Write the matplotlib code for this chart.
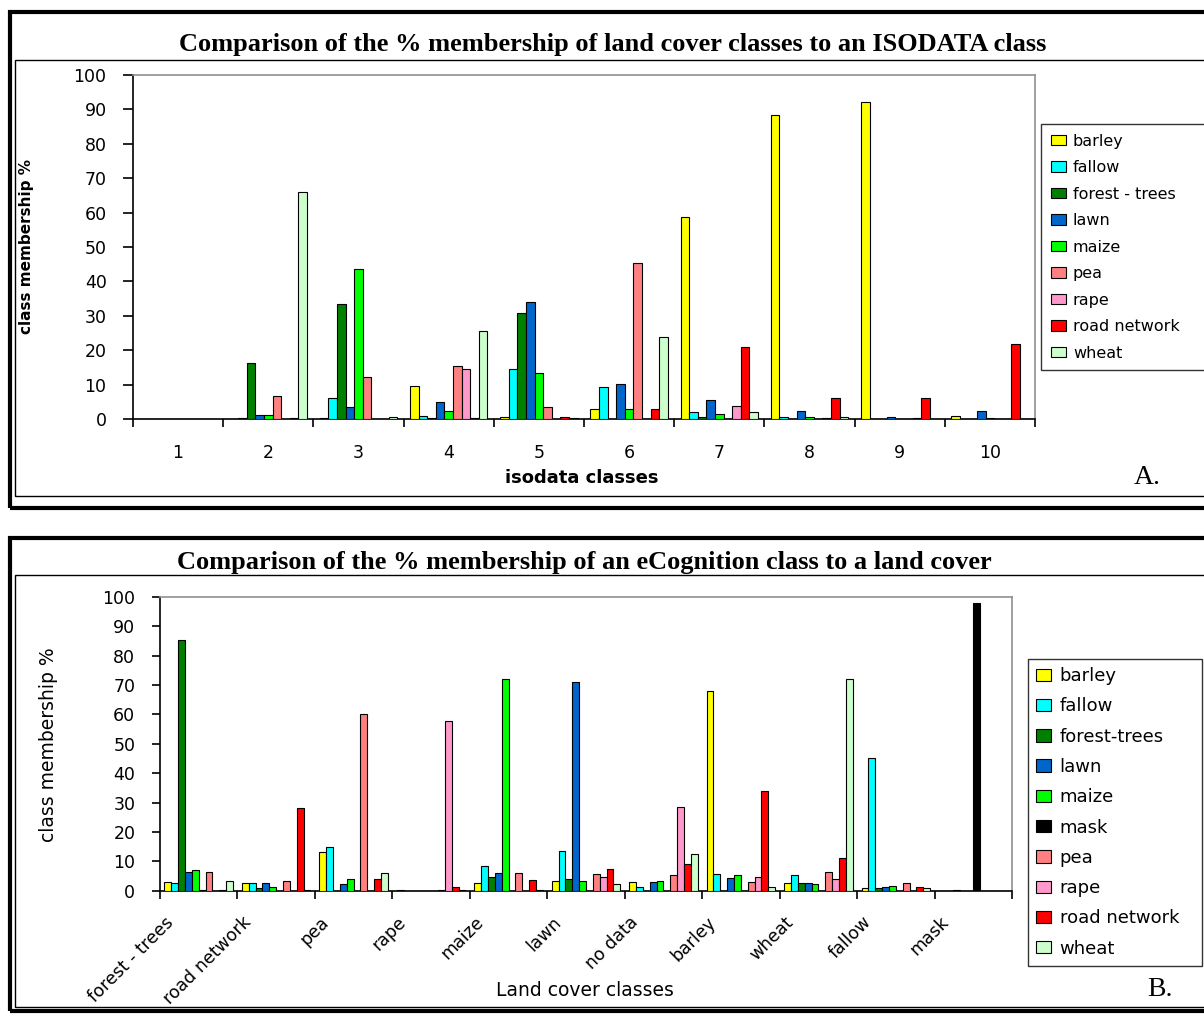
import matplotlib
matplotlib.use('Agg')
import matplotlib.pyplot as plt
import numpy as np
from matplotlib.patches import Rectangle
import matplotlib.transforms as mtransforms

W, H, DPI = 1204, 1014, 100

# ---------------- data: panel A ----------------
isodata_classes = ['1', '2', '3', '4', '5', '6', '7', '8', '9', '10']
series_a = ['barley', 'fallow', 'forest - trees', 'lawn', 'maize', 'pea', 'rape',
            'road network', 'wheat']
a_barley = [0, 0, 0.2, 9.7, 0.5, 3.0, 58.6, 88.5, 92.2, 1.0]
a_fallow = [0, 0.2, 6.0, 1.0, 14.6, 9.3, 2.0, 0.5, 0, 0]
a_forest = [0, 16.2, 33.3, 0.2, 30.8, 0, 0.5, 0, 0, 0]
a_lawn = [0, 1.3, 3.4, 5.0, 34.0, 10.1, 5.4, 2.2, 0.5, 2.3]
a_maize = [0, 1.2, 43.7, 2.3, 13.4, 2.9, 1.4, 0.5, 0, 0.2]
a_pea = [0, 6.7, 12.1, 15.5, 3.4, 45.4, 0, 0, 0, 0]
a_rape = [0, 0, 0, 14.6, 0, 0, 3.7, 0.2, 0.2, 0]
a_road = [0, 0.2, 0, 0.4, 0.6, 2.9, 20.8, 6.0, 6.0, 21.7]
a_wheat = [0, 66.1, 0.7, 25.5, 0.2, 23.7, 2.1, 0.5, 0, 0]
values_a = [a_barley, a_fallow, a_forest, a_lawn, a_maize, a_pea, a_rape, a_road, a_wheat]

# ---------------- data: panel B ----------------
landcover_classes = ['forest - trees', 'road network', 'pea', 'rape', 'maize', 'lawn',
                     'no data', 'barley', 'wheat', 'fallow', 'mask']
series_b = ['barley', 'fallow', 'forest-trees', 'lawn', 'maize', 'mask', 'pea', 'rape',
            'road network', 'wheat']
b_barley = [3.1, 2.5, 13.3, 0.3, 2.5, 3.4, 2.9, 67.9, 2.5, 0.8, 0]
b_fallow = [2.5, 2.5, 15.0, 0, 8.4, 13.6, 1.2, 5.7, 5.2, 45.0, 0]
b_forest = [85.3, 0.8, 0, 0, 4.8, 3.9, 0, 0, 2.5, 0.8, 0.3]
b_lawn = [6.5, 2.5, 2.2, 0, 6.1, 70.9, 2.9, 4.3, 2.5, 1.2, 0]
b_maize = [6.9, 1.1, 3.9, 0, 71.9, 3.4, 3.4, 5.2, 2.2, 1.7, 0]
b_mask = [0.3, 0, 0, 0, 0, 0, 0, 0, 0, 0, 97.7]
b_pea = [6.5, 3.4, 60.0, 0.3, 6.1, 5.7, 5.2, 2.9, 6.5, 2.5, 0]
b_rape = [0, 0, 0, 57.8, 0, 4.8, 28.5, 4.8, 3.9, 0, 0]
b_road = [0.3, 28.0, 3.9, 1.4, 3.8, 7.4, 9.1, 33.8, 11.0, 1.2, 0]
b_wheat = [3.4, 0.3, 6.1, 0.3, 0.3, 2.2, 12.6, 1.2, 71.9, 0.8, 0]
values_b = [b_barley, b_fallow, b_forest, b_lawn, b_maize, b_mask, b_pea, b_rape, b_road, b_wheat]

yticks = [0, 10, 20, 30, 40, 50, 60, 70, 80, 90, 100]

colors = {
    'barley': '#FFFF00', 'fallow': '#00FFFF', 'forest - trees': '#008000',
    'forest-trees': '#008000', 'lawn': '#0066CC', 'maize': '#00FF00',
    'mask': '#000000', 'pea': '#FF8080', 'rape': '#FF99CC',
    'road network': '#FF0000', 'wheat': '#CCFFCC',
}

plt.rcParams['font.family'] = ['DejaVu Sans']
fig = plt.figure(figsize=(W / DPI, H / DPI), dpi=DPI)
fig.patch.set_facecolor('white')


def fx(x):
    return x / W


def fy(y):
    return 1 - y / H


def frame(x0, y0, x1, y1, lw, color='black'):
    fig.add_artist(Rectangle((fx(x0), fy(y1)), fx(x1) - fx(x0), fy(y0) - fy(y1),
                             transform=fig.transFigure, fill=False, lw=lw,
                             edgecolor=color, clip_on=False))


def style_axes(ax, ncat, ytick_len, fs):
    ax.set_xlim(-0.5, ncat - 0.5)
    ax.set_ylim(0, 100)
    ax.set_yticks(yticks)
    for s in ['top', 'right']:
        ax.spines[s].set_color('#909090')
        ax.spines[s].set_linewidth(1.2)
    for s in ['left', 'bottom']:
        ax.spines[s].set_color('black')
        ax.spines[s].set_linewidth(1.2)
    ax.tick_params(axis='y', direction='out', length=ytick_len, width=1.2,
                   labelsize=fs, pad=12)
    ax.set_xticks(np.arange(ncat))
    ax.set_xticks(np.arange(ncat + 1) - 0.5, minor=True)
    ax.tick_params(axis='x', which='major', length=0)
    ax.tick_params(axis='x', which='minor', direction='out', length=5.5, width=1.2)


# ---------------- frames ----------------
frame(10, 11.5, 1240, 508.5, 3.0)
frame(14.5, 59.5, 1240, 495.5, 1.0)
frame(10, 537.5, 1240, 1011.0, 3.0)
frame(14.5, 575.0, 1240, 1007.0, 1.0)

# ---------------- panel A ----------------
axA = fig.add_axes([fx(133), fy(419), (1035 - 133) / W, (419 - 75) / H])
xa = np.arange(len(isodata_classes))
wa = 0.0955
for i, (name, vals) in enumerate(zip(series_a, values_a)):
    axA.bar(xa + (i - 4) * wa, vals, wa, color=colors[name], edgecolor='black',
            linewidth=0.8, label=name, zorder=3)
style_axes(axA, len(isodata_classes), 7, 12.5)
axA.set_xticklabels(isodata_classes, fontsize=12.5)
axA.tick_params(axis='x', which='major', pad=18)
axA.set_ylabel('class membership %', fontsize=11, fontweight='bold')
axA.yaxis.set_label_coords((34 - 133) / 902, 0.5)
axA.set_xlabel('isodata classes', fontsize=13, fontweight='bold', va='center')
axA.xaxis.set_label_coords((582 - 133) / 902, (419 - 478) / 344)

hA, lA = axA.get_legend_handles_labels()
legA = fig.legend(hA, lA, loc='upper left',
                  bbox_to_anchor=(fx(1041), fy(365), fx(1225) - fx(1041), fy(124) - fy(365)),
                  bbox_transform=fig.transFigure, mode='expand', borderaxespad=0,
                  fancybox=False, edgecolor='black', fontsize=11.5, handlelength=0.95,
                  handleheight=0.65, handletextpad=0.45, labelspacing=0.72, borderpad=0.6)
legA.get_frame().set_linewidth(1.0)

fig.text(fx(613), fy(44), 'Comparison of the % membership of land cover classes to an ISODATA class',
         ha='center', va='center', fontsize=19, fontweight='bold', family='Liberation Serif')
fig.text(fx(1147), fy(477), 'A.', ha='center', va='center', fontsize=20, family='Liberation Serif')

# ---------------- panel B ----------------
axB = fig.add_axes([fx(160), fy(890.7), (1012 - 160) / W, (890.7 - 596.7) / H])
xb = np.arange(len(landcover_classes))
wb = 0.0886
for i, (name, vals) in enumerate(zip(series_b, values_b)):
    axB.bar(xb + (i - 4.5) * wb, vals, wb, color=colors[name], edgecolor='black',
            linewidth=0.8, label=name, zorder=3)
style_axes(axB, len(landcover_classes), 5.8, 12.5)
axB.set_xticklabels(landcover_classes, rotation=45, ha='right', rotation_mode='anchor',
                    fontsize=12.5)
axB.tick_params(axis='x', which='major', pad=14)
offset = mtransforms.ScaledTranslation(-34 / DPI, -3 / DPI, fig.dpi_scale_trans)
for lab in axB.get_xticklabels():
    lab.set_transform(lab.get_transform() + offset)
axB.set_ylabel('class membership %', fontsize=13.5)
axB.yaxis.set_label_coords((58 - 160) / 852, 0.495)
axB.set_xlabel('Land cover classes', fontsize=13.5, va='center')
axB.xaxis.set_label_coords((585 - 160) / 852, (890.7 - 991) / 294)

hB, lB = axB.get_legend_handles_labels()
legB = fig.legend(hB, lB, loc='upper left',
                  bbox_to_anchor=(fx(1028), fy(965), fx(1202) - fx(1028), fy(659) - fy(965)),
                  bbox_transform=fig.transFigure, mode='expand', borderaxespad=0,
                  fancybox=False, edgecolor='black', fontsize=13, handlelength=0.85,
                  handleheight=0.68, handletextpad=0.45, labelspacing=0.68, borderpad=0.45)
legB.get_frame().set_linewidth(1.0)

fig.text(fx(584), fy(563), 'Comparison of the % membership of an eCognition class to a land cover',
         ha='center', va='center', fontsize=19, fontweight='bold', family='Liberation Serif')
fig.text(fx(1160), fy(990), 'B.', ha='center', va='center', fontsize=20, family='Liberation Serif')

fig.savefig('out.png', dpi=DPI, facecolor='white')
